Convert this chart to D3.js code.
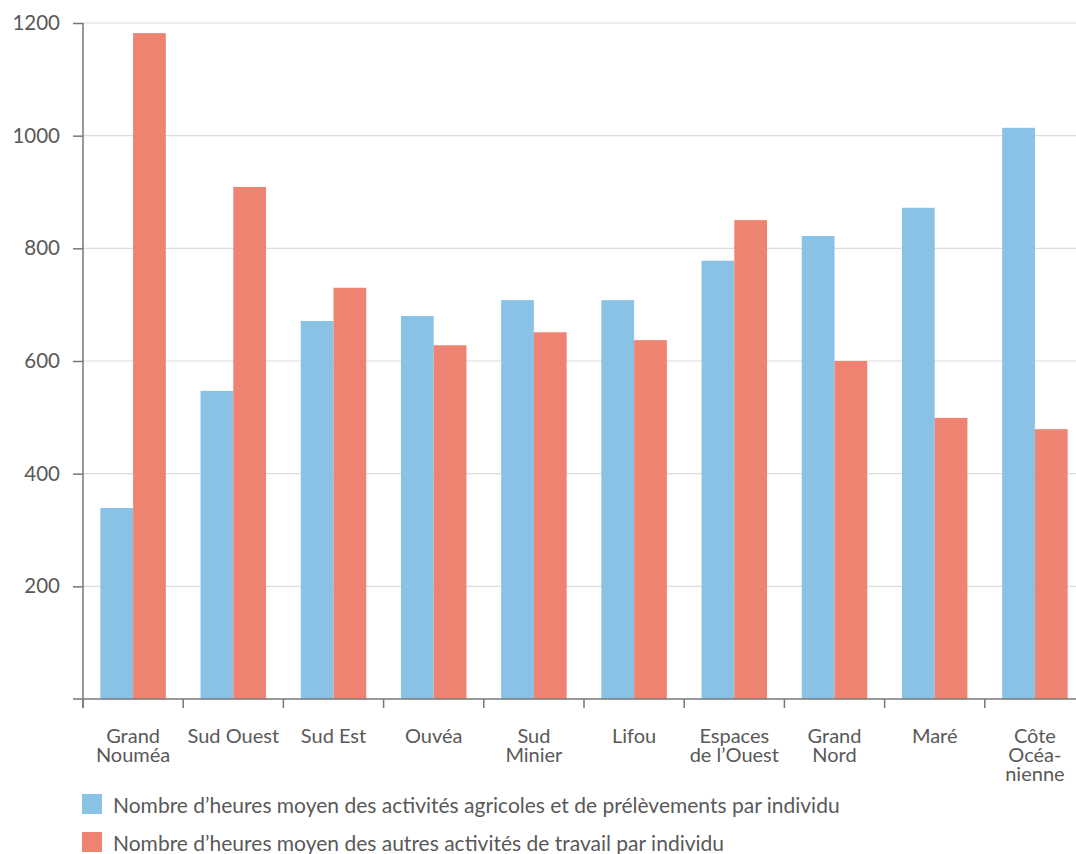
<!DOCTYPE html>
<html>
<head>
<meta charset="utf-8">
<script src="https://cdn.jsdelivr.net/npm/d3@7"></script>
<style>
  body { margin: 0; background: #fff; }
  svg { display: block; }
  text { font-family: "Lato", "Open Sans", sans-serif; fill: #595959; }
</style>
</head>
<body>
<svg id="chart" width="1076" height="854"></svg>
<script>
// Territorial areas (labels split over lines)
const regions = [
  ["Grand", "Nouméa"],
  ["Sud Ouest"],
  ["Sud Est"],
  ["Ouvéa"],
  ["Sud", "Minier"],
  ["Lifou"],
  ["Espaces", "de l’Ouest"],
  ["Grand", "Nord"],
  ["Maré"],
  ["Côte", "Océa-", "nienne"]
];
// Average hours per individual
const agricoles = [339, 547, 671, 680, 708, 708, 778, 822, 872, 1014];
const autres    = [1182, 909, 730, 628, 651, 637, 850, 600, 499, 479];
const yTicks = [200, 400, 600, 800, 1000, 1200];
const seriesNames = [
  "Nombre d’heures moyen des activités agricoles et de prélèvements par individu",
  "Nombre d’heures moyen des autres activités de travail par individu"
];
const colors = ["#8AC2E5", "#EE8372"];

const svg = d3.select("#chart");
const mLeft = 83, mRight = 1085, mTop = 23, mBottom = 699;

const x = d3.scaleBand().domain(d3.range(regions.length)).range([mLeft, mRight]).paddingInner(0).paddingOuter(0);
const inner = d3.scaleBand().domain([0, 1]).range([0, x.bandwidth()]).paddingOuter(0.53).paddingInner(0);
const y = d3.scaleLinear().domain([0, 1200]).range([mBottom, mTop]);

// Horizontal gridlines
svg.append("g").selectAll("line").data(yTicks).join("line")
  .attr("x1", mLeft).attr("x2", 1076)
  .attr("y1", d => y(d)).attr("y2", d => y(d))
  .attr("stroke", "#dcdcdc").attr("stroke-width", 1.2);

// Bars
const data = regions.map((r, i) => ({ i, vals: [agricoles[i], autres[i]] }));
const groups = svg.append("g").selectAll("g").data(data).join("g")
  .attr("transform", d => `translate(${x(d.i)},0)`);
groups.selectAll("rect").data(d => d.vals.map((v, s) => ({ v, s }))).join("rect")
  .attr("x", d => inner(d.s))
  .attr("width", inner.bandwidth())
  .attr("y", d => y(d.v))
  .attr("height", d => y(0) - y(d.v))
  .attr("fill", d => colors[d.s]);

// Y axis
const yAxis = svg.append("g").attr("transform", `translate(${mLeft},0)`)
  .call(d3.axisLeft(y).tickValues(yTicks).tickFormat(d3.format("d"))
    .tickSize(10).tickPadding(13).tickSizeOuter(0));
yAxis.select(".domain").attr("d", `M0,${y(1200)}V${mBottom + 9}`);
yAxis.selectAll("line").attr("stroke", "#777").attr("stroke-width", 1.5);
yAxis.select(".domain").attr("stroke", "#777").attr("stroke-width", 1.5);
yAxis.selectAll("text").attr("font-size", 20.5).style("fill", "#595959")
  .attr("font-family", "Lato, 'Open Sans', sans-serif").attr("dy", "0.32em");

// X axis baseline and band ticks
const xAxis = svg.append("g");
xAxis.append("line").attr("x1", mLeft - 10).attr("x2", 1076)
  .attr("y1", mBottom).attr("y2", mBottom).attr("stroke", "#777").attr("stroke-width", 1.5);
xAxis.selectAll("line.tk").data(d3.range(regions.length)).join("line").attr("class", "tk")
  .attr("x1", d => x(d)).attr("x2", d => x(d))
  .attr("y1", mBottom).attr("y2", mBottom + 9)
  .attr("stroke", "#777").attr("stroke-width", 1.5);

// Category labels
const lbl = svg.append("g").selectAll("text").data(regions).join("text")
  .attr("text-anchor", "middle")
  .attr("font-size", 20)
  .attr("transform", (d, i) => `translate(${x(i) + x.bandwidth() / 2},${743})`);
lbl.selectAll("tspan").data(d => d).join("tspan")
  .attr("x", 0).attr("dy", (d, j) => j === 0 ? 0 : 19).text(d => d);

// Legend
const leg = svg.append("g").selectAll("g").data(seriesNames).join("g")
  .attr("transform", (d, i) => `translate(82,${794 + i * 38})`);
leg.append("rect").attr("width", 20).attr("height", 20).attr("fill", (d, i) => colors[i]);
leg.append("text").attr("x", 31).attr("y", 19).attr("font-size", 21).text(d => d);
</script>
</body>
</html>
